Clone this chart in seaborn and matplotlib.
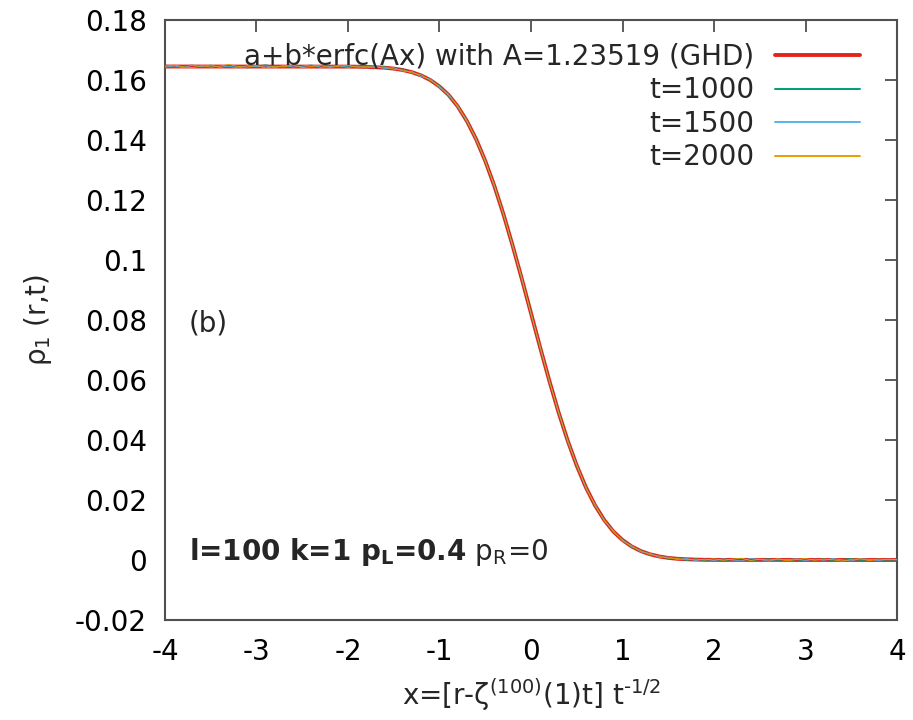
import numpy as np
import pandas as pd
import matplotlib
matplotlib.use('Agg')
import matplotlib.pyplot as plt
from matplotlib.ticker import FuncFormatter, MultipleLocator
import seaborn as sns

sns.set_style('white')
plt.rcParams['font.family'] = ['DejaVu Sans']
plt.rcParams['mathtext.fontset'] = 'dejavusans'
plt.rcParams['axes.unicode_minus'] = False

# scaled position grid of the simulation data
x_data = np.round(np.arange(-4.0, 4.01, 0.1), 1)

rho_t1000 = [0.1648, 0.1642, 0.1646, 0.1650, 0.1641, 0.1645, 0.1649, 0.1643, 0.1647, 0.1640,
             0.1646, 0.1651, 0.1644, 0.1642, 0.1648, 0.1645, 0.1641, 0.1647, 0.1649, 0.1643,
             0.1646, 0.1641, 0.1648, 0.1640, 0.1645, 0.1634, 0.1637, 0.1623, 0.1619, 0.1597,
             0.1582, 0.1546, 0.1515, 0.1459, 0.1406, 0.1327, 0.1250, 0.1148, 0.1051, 0.0933,
             0.0825, 0.0705, 0.0601, 0.0490, 0.0402, 0.0312, 0.0245, 0.0179, 0.0136, 0.0092,
             0.0069, 0.0042, 0.0033, 0.0016, 0.0015, 0.0004, 0.0008, -0.0002, 0.0004, -0.0003,
             0.0003, -0.0004, 0.0002, 0.0005, -0.0003, 0.0001, 0.0004, -0.0002, 0.0003, -0.0005,
             0.0002, 0.0000, 0.0004, -0.0003, 0.0002, 0.0005, -0.0002, 0.0001, 0.0003, -0.0004,
             0.0002]
rho_t1500 = [0.1643, 0.1647, 0.1641, 0.1649, 0.1645, 0.1650, 0.1642, 0.1646, 0.1640, 0.1648,
             0.1644, 0.1647, 0.1641, 0.1649, 0.1643, 0.1646, 0.1651, 0.1642, 0.1645, 0.1648,
             0.1642, 0.1647, 0.1640, 0.1646, 0.1638, 0.1641, 0.1630, 0.1628, 0.1611, 0.1603,
             0.1575, 0.1553, 0.1509, 0.1466, 0.1400, 0.1333, 0.1244, 0.1154, 0.1044, 0.0940,
             0.0819, 0.0712, 0.0595, 0.0497, 0.0395, 0.0318, 0.0239, 0.0185, 0.0130, 0.0098,
             0.0063, 0.0048, 0.0027, 0.0022, 0.0009, 0.0010, 0.0001, 0.0005, -0.0002, 0.0003,
             -0.0002, 0.0004, 0.0000, -0.0003, 0.0005, 0.0002, -0.0004, 0.0003, 0.0001, 0.0004,
             -0.0002, 0.0003, -0.0001, 0.0005, 0.0000, -0.0003, 0.0004, 0.0002, -0.0002, 0.0003,
             0.0000]
rho_t2000 = [0.1646, 0.1650, 0.1644, 0.1641, 0.1648, 0.1643, 0.1646, 0.1652, 0.1645, 0.1643,
             0.1649, 0.1640, 0.1646, 0.1644, 0.1650, 0.1641, 0.1645, 0.1649, 0.1642, 0.1646,
             0.1649, 0.1643, 0.1645, 0.1642, 0.1643, 0.1636, 0.1633, 0.1624, 0.1617, 0.1599,
             0.1579, 0.1548, 0.1514, 0.1461, 0.1404, 0.1328, 0.1249, 0.1150, 0.1049, 0.0936,
             0.0823, 0.0707, 0.0599, 0.0492, 0.0400, 0.0314, 0.0243, 0.0181, 0.0134, 0.0094,
             0.0067, 0.0044, 0.0031, 0.0018, 0.0013, 0.0006, 0.0005, 0.0001, 0.0003, 0.0000,
             0.0004, -0.0001, 0.0003, 0.0006, -0.0002, 0.0003, 0.0000, 0.0004, -0.0003, 0.0002,
             0.0005, -0.0001, 0.0003, 0.0001, -0.0004, 0.0002, 0.0004, -0.0002, 0.0003, 0.0001,
             0.0002]

# GHD curve
x_fit = [-4.0] + list(np.round(np.arange(-2.0, 2.01, 0.1), 1)) + [4.0]
rho_fit = [0.1645,
           0.16447, 0.16444, 0.16437, 0.16425, 0.16410, 0.16380, 0.16332, 0.16259, 0.16152, 0.15998,
           0.15784, 0.15500, 0.15117, 0.14629, 0.14029, 0.13304, 0.12463, 0.11515, 0.10471, 0.09366,
           0.08225, 0.07084, 0.05979, 0.04935, 0.03987, 0.03146, 0.02421, 0.01821, 0.01333, 0.00950,
           0.00666, 0.00452, 0.00298, 0.00191, 0.00118, 0.00070, 0.00040, 0.00025, 0.00013, 0.00006,
           0.00003,
           0.0]

series_labels = ['t=1000', 't=1500', 't=2000']
series_colors = ['#009e73', '#56b4e9', '#e69f00']
fit_label = 'a+b*erfc(Ax) with A=1.23519 (GHD)'

fig, ax = plt.subplots(figsize=(9.13, 7.2), dpi=100)
fig.subplots_adjust(left=0.1807, right=0.9825, bottom=0.1389, top=0.9722)

sns.lineplot(x=x_fit, y=rho_fit, ax=ax, color='#e3241b', lw=2.8, label=fit_label, zorder=2)
for lab, col, ys in zip(series_labels, series_colors, [rho_t1000, rho_t1500, rho_t2000]):
    sns.lineplot(x=x_data, y=ys, ax=ax, color=col, lw=0.6, label=lab, zorder=3)

ax.set_xlim(-4, 4)
ax.set_ylim(-0.02, 0.18)
ax.xaxis.set_major_locator(MultipleLocator(1))
ax.yaxis.set_major_locator(MultipleLocator(0.02))
ax.xaxis.set_major_formatter(FuncFormatter(lambda v, p: '%g' % round(v, 4)))
ax.yaxis.set_major_formatter(FuncFormatter(lambda v, p: '%g' % round(v, 4)))
ax.tick_params(direction='in', length=8.5, width=1.2, top=True, right=True,
               labelsize=20, pad=13, color='#404040', labelcolor='black')
for sp in ax.spines.values():
    sp.set_visible(True)
    sp.set_color('#505050')
    sp.set_linewidth(1.5)

ax.set_xlabel('x=[r-ζ$^{(100)}$(1)t] t$^{\\text{-1/2}}$', fontsize=20)
ax.set_ylabel('ρ$_1$ (r,t)', fontsize=20)
ax.xaxis.set_label_coords(0.5, -0.094)
ax.yaxis.set_label_coords(-0.152, 0.5)

leg = ax.legend(loc='upper right', bbox_to_anchor=(0.949, 0.962), frameon=False,
                markerfirst=False, handlelength=3.05, handletextpad=0.75,
                labelspacing=0.2, borderpad=0, borderaxespad=0, fontsize=20)
for line in leg.get_lines()[1:]:
    line.set_linewidth(1.4)

ax.text(-3.74, 0.079, '(b)', fontsize=20, va='center')
t1 = ax.text(-3.74, 0.0, 'l=100 k=1 p$_\\mathbf{L}$=0.4', fontsize=20,
             fontweight='bold', va='baseline')
fig.canvas.draw()
bb = t1.get_window_extent()
x_end = ax.transData.inverted().transform((bb.x1, bb.y0))[0]
ax.text(x_end, 0.0, ' p$_\\mathrm{R}$=0', fontsize=20, va='baseline')

fig.savefig('out.png', dpi=100)
